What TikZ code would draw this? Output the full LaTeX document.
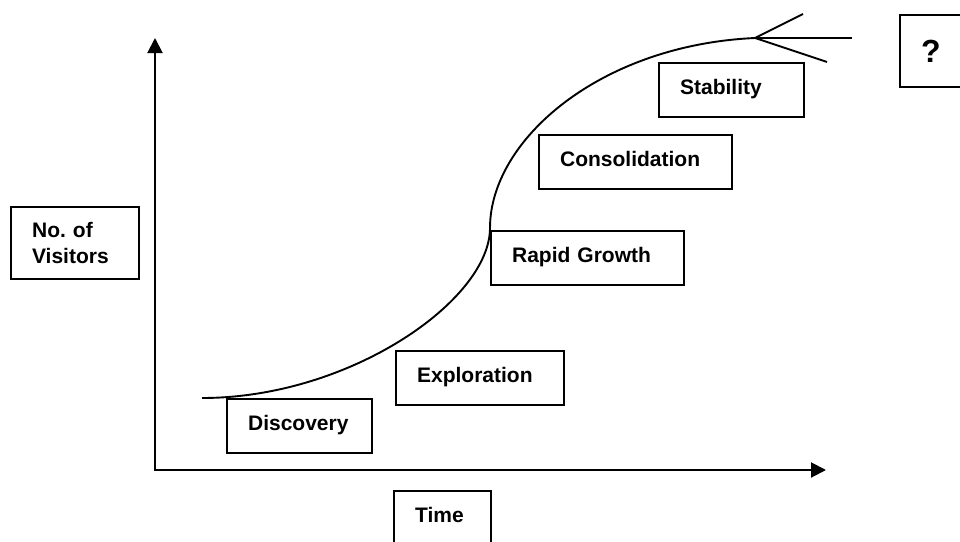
\documentclass[tikz,border=0pt]{standalone}
\usepackage{fontspec}
\setmainfont{Liberation Sans}
\usetikzlibrary{arrows.meta}
\begin{document}
\begin{tikzpicture}[x=1pt,y=-1pt,
  stage/.style={draw, line width=2.2pt, anchor=north west, inner xsep=21pt,
    inner ysep=0pt, align=left, minimum height=54pt,
    font=\fontsize{21}{26}\selectfont\bfseries},
  oneline/.style={text height=15pt, text depth=7pt},
  axis/.style={line width=2pt, {Triangle[length=15pt,width=15pt]}-{Triangle[length=15pt,width=15pt]}},
  curve/.style={line width=1.9pt}]
\useasboundingbox (0,0) rectangle (960,541);
\clip (0,0) rectangle (960,541);

% axis labels
\node[stage, text width=86pt, minimum height=72pt] (visitors) at (10,206) {No.\ of\\Visitors};
\node[stage, oneline, text width=55pt] (time) at (393,490) {Time};

% stage boxes
\node[stage, oneline, text width=103pt] (discovery) at (226,398) {Discovery};
\node[stage, oneline, text width=126pt] (exploration) at (395,350) {Exploration};
\node[stage, oneline, text width=151pt] (rapid) at (490,230) {Rapid Growth};
\node[stage, oneline, text width=151pt] (consolidation) at (538,134) {Consolidation};
\node[stage, oneline, text width=103pt] (stability) at (658,62) {Stability};
\node[stage, text width=58pt, minimum height=72pt,
      font=\fontsize{32}{36}\selectfont\bfseries] (unknown) at (899,14) {?};

% axes
\coordinate (origin) at (155,470);
\coordinate (ytip) at (155,38);
\coordinate (xtip) at (826,470);
\draw[axis] (ytip) -- (origin) -- (xtip);

% growth curve
\coordinate (c0) at (202,398);
\coordinate (c1) at (490,228);
\coordinate (c2) at (755,38);
\draw[curve] (c0) .. controls (350,398) and (490,300) .. (c1)
             .. controls (490,140) and (600,45) .. (c2);

% possible futures
\coordinate (bu) at (803,14);
\coordinate (bh) at (852,38);
\coordinate (bd) at (827,62);
\draw[curve] (bu) -- (c2) -- (bd);
\draw[curve] (c2) -- (bh);
\end{tikzpicture}
\end{document}
